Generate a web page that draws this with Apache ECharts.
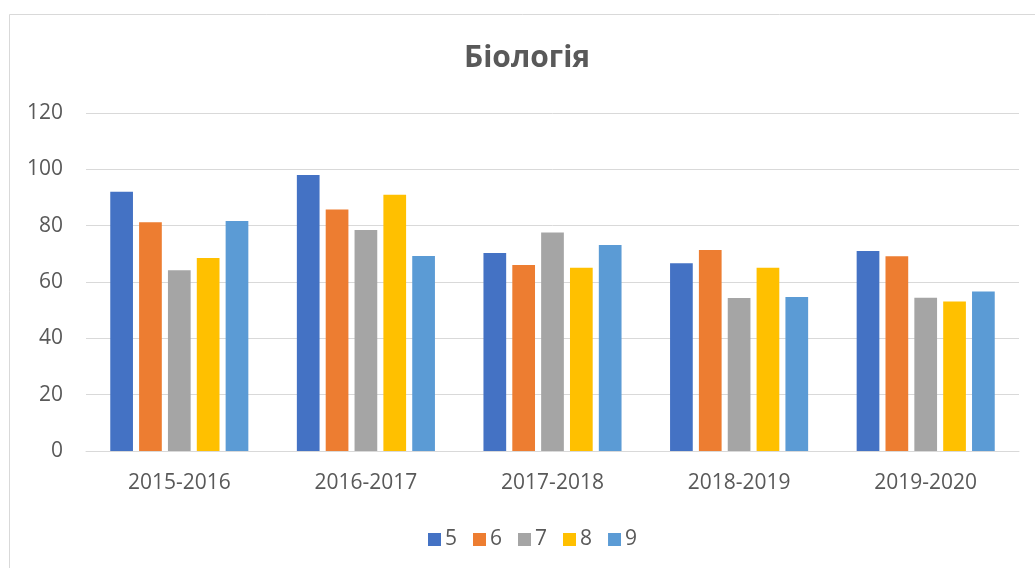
<!DOCTYPE html>
<html>
<head>
<meta charset="utf-8">
<script src="https://cdn.jsdelivr.net/npm/echarts@6/dist/echarts.min.js"></script>
<style>
html,body{margin:0;padding:0;background:#fff;}
#chart{width:1035px;height:568px;}
</style>
</head>
<body>
<div id="chart"></div>
<script>
const categories = ['2015-2016', '2016-2017', '2017-2018', '2018-2019', '2019-2020'];
const seriesNames = ['5', '6', '7', '8', '9'];
const s5 = [92.0, 98.0, 70.3, 66.7, 71.0];
const s6 = [81.2, 85.7, 66.0, 71.4, 69.1];
const s7 = [64.2, 78.5, 77.6, 54.3, 54.4];
const s8 = [68.5, 91.0, 65.1, 65.1, 53.1];
const s9 = [81.7, 69.2, 73.1, 54.7, 56.6];
const seriesValues = [s5, s6, s7, s8, s9];
const colors = ['#4472C4', '#ED7D31', '#A5A5A5', '#FFC000', '#5B9BD5'];
const titleText = 'Біологія';

const font = "'Open Sans', 'Liberation Sans', sans-serif";
const chart = echarts.init(document.getElementById('chart'), null, {renderer: 'canvas'});
chart.setOption({
  animation: false,
  backgroundColor: '#fff',
  color: colors,
  graphic: [{
    type: 'rect',
    shape: {x: 9.5, y: 14.5, width: 1100, height: 700},
    style: {fill: 'none', stroke: '#D9D9D9', lineWidth: 1},
    silent: true
  }],
  title: {
    text: titleText,
    left: 459,
    top: 38,
    textStyle: {fontFamily: font, fontSize: 30, fontWeight: 'bold', color: '#595959'}
  },
  legend: {
    data: seriesNames,
    left: 423,
    top: 524,
    icon: 'rect',
    itemWidth: 13,
    itemHeight: 13,
    itemGap: 16,
    textStyle: {fontFamily: font, fontSize: 21, color: '#595959', padding: [0, 0, 0, -1]}
  },
  grid: {left: 86, right: 16, top: 113, bottom: 117, containLabel: false},
  xAxis: {
    type: 'category',
    data: categories,
    axisLine: {lineStyle: {color: '#D9D9D9', width: 1}},
    axisTick: {show: false},
    axisLabel: {fontFamily: font, fontSize: 21, color: '#595959', margin: 22}
  },
  yAxis: {
    type: 'value',
    min: 0,
    max: 120,
    interval: 20,
    axisLine: {show: false},
    axisTick: {show: false},
    splitLine: {lineStyle: {color: '#D9D9D9', width: 1}},
    axisLabel: {fontFamily: font, fontSize: 21, color: '#595959', margin: 23}
  },
  series: seriesNames.map((n, i) => ({
    name: n,
    type: 'bar',
    data: seriesValues[i],
    barGap: '27%',
    barCategoryGap: '26%',
    itemStyle: {color: colors[i]}
  }))
});
</script>
</body>
</html>
